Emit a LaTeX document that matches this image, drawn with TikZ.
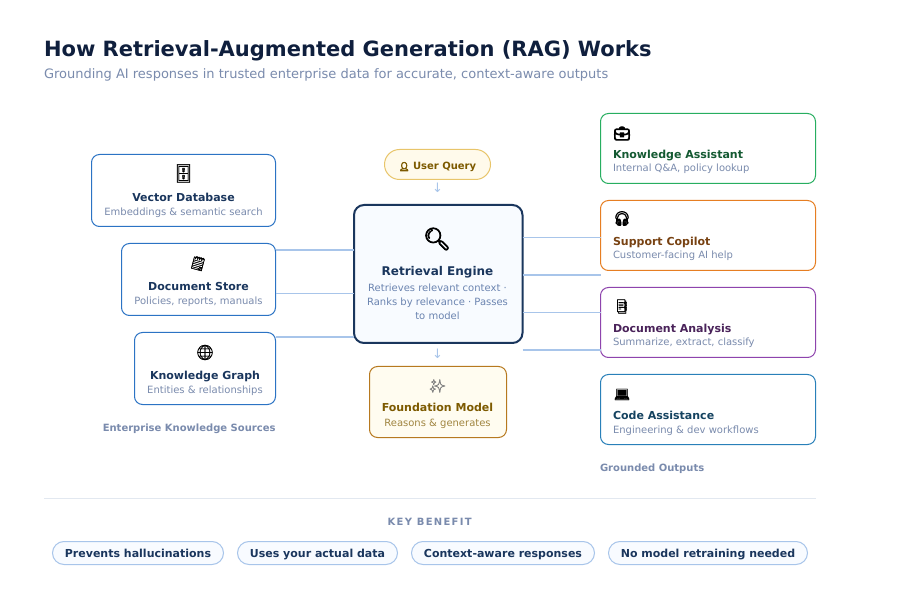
\documentclass[tikz,border=0pt]{standalone}
\usepackage{fontspec}
\setmainfont{DejaVu Sans}
\newfontfamily\emo[FakeBold=1.2]{Noto Emoji}
\newfontfamily\emob[FakeBold=4]{Noto Emoji}
\newfontfamily\emoc[FakeBold=9]{Noto Emoji}
\newfontfamily\spaced[LetterSpace=13]{DejaVu Sans}
\newcommand{\fsz}[1]{\fontsize{#1}{#1}\selectfont}
\definecolor{ink}{HTML}{0F1F3D}
\definecolor{subt}{HTML}{7A8BAD}
\definecolor{navy}{HTML}{1A365D}
\definecolor{bluecard}{HTML}{2B73C4}
\definecolor{link}{HTML}{A8C5EA}
\definecolor{pale}{HTML}{F8FBFF}
\definecolor{engsub}{HTML}{6B84B0}
\definecolor{gA}{HTML}{27AE60}\definecolor{gT}{HTML}{145A32}
\definecolor{oA}{HTML}{E67E22}\definecolor{oT}{HTML}{784212}
\definecolor{pA}{HTML}{8E44AD}\definecolor{pT}{HTML}{4A235A}
\definecolor{bA}{HTML}{2980B9}\definecolor{bT}{HTML}{154360}
\definecolor{goldT}{HTML}{7D5A00}\definecolor{goldB}{HTML}{B7791F}\definecolor{goldS}{HTML}{A08540}
\definecolor{creamA}{HTML}{FFFAEB}\definecolor{creamB}{HTML}{FFFCF0}\definecolor{goldL}{HTML}{E8C56A}
\definecolor{rule}{HTML}{E2E8F0}
\tikzset{
  box/.style={draw,rectangle,rounded corners=8pt,line width=1pt,inner sep=0pt,outer sep=0pt,fill=white},
  txt/.style={inner sep=0pt,outer sep=0pt,anchor=base},
  ttl/.style={txt,font=\fsz{11}\bfseries,text=navy},
  sub/.style={txt,font=\fsz{10},text=subt},
  ic/.style={inner sep=0pt,outer sep=0pt,anchor=center,text=black},
  thinlink/.style={draw=link,line width=1pt},
  thicklink/.style={draw=link,line width=2pt},
  pill/.style={box,rounded corners=11.5pt,draw=link,fill=pale,minimum height=23pt,font=\fsz{11}\bfseries,text=navy,text height=11.5pt,text depth=2.5pt},
  seclabel/.style={txt,font=\fsz{10}\bfseries,text=subt},
  tick/.style={txt,font=\fsz{13},text=link}
}
\newcommand{\leftcard}[9]{% name,x1,x2,y1,y2,icon font/opts,icon,title,sub
  \node[box,draw=bluecard,minimum width=#3pt-#2pt,minimum height=#5pt-#4pt,anchor=north west] (#1) at (#2,#4) {};
  \pgfmathsetmacro{\cx}{(#2+#3)/2}
  \node[ic,#6] (#1i) at (\cx,#4+20) {#7};
  \node[ttl] (#1t) at (\cx,#4+47.5) {#8};
  \node[sub] (#1s) at (\cx,#4+61) {#9};
}
\newcommand{\rightcard}[8]{% name,y1,border,titlecolor,iconopts,icon,title,sub
  \node[box,draw=#3,minimum width=215pt,minimum height=70pt,anchor=north west] (#1) at (600.5,#2) {};
  \node[ic,#5] (#1i) at (622,#2+20) {#6};
  \node[ttl,anchor=base west,text=#4] (#1t) at (613,#2+45) {#7};
  \node[sub,anchor=base west] (#1s) at (613,#2+58.5) {#8};
}
\begin{document}
\begin{tikzpicture}[x=1pt,y=-1pt]
\useasboundingbox[fill=white] (0,0) rectangle (900,612);
\node[txt,anchor=base west,font=\fsz{21}\bfseries,text=ink] (title) at (44,56.5) {How Retrieval-Augmented Generation (RAG) Works};
\node[txt,anchor=base west,font=\fsz{13},text=subt] (subtitle) at (44,79) {Grounding AI responses in trusted enterprise data for accurate, context-aware outputs};
\leftcard{vdb}{91.5}{275.5}{154.5}{226.5}{font=\emo\fsz{18},xscale=.72,yshift=1pt}{🗄}{Vector Database}{Embeddings \& semantic search}
\leftcard{doc}{121.5}{275.5}{243.5}{315.5}{font=\emo\fsz{13},rotate=-15,xshift=-.5pt}{🗒}{Document Store}{Policies, reports, manuals}
\leftcard{kg}{134.5}{275.5}{332.5}{404.5}{font=\emo\fsz{15}}{🌐}{Knowledge Graph}{Entities \& relationships}
\node[seclabel,anchor=base east] (srclabel) at (275.5,431) {Enterprise Knowledge Sources};
\node[box,draw=navy,fill=pale,line width=2pt,rounded corners=10pt,minimum width=168.5pt,minimum height=138pt,anchor=north west] (eng) at (354,205) {};
\node[ic,font=\emob\fsz{22}] (engi) at (437,239) {🔍};
\node[ttl,font=\fsz{12}\bfseries] (engt) at (437.5,275.5) {Retrieval Engine};
\node[sub,text=engsub] (engs1) at (437.5,292) {Retrieves relevant context ·};
\node[sub,text=engsub] (engs2) at (437.5,306) {Ranks by relevance · Passes};
\node[sub,text=engsub] (engs3) at (437.5,320) {to model};
\node[box,draw=goldL,fill=creamA,rounded corners=15pt,minimum width=106pt,minimum height=30pt,anchor=north west] (uq) at (384.5,149.5) {};
\node[txt,font=\fsz{10}\bfseries,text=goldT] (uqt) at (437.5,169.5) {{\emoc\fsz{8.5}👤} User Query};
\node[box,draw=goldB,fill=creamB,minimum width=137pt,minimum height=71pt,anchor=north west] (fm) at (369.5,366.5) {};
\node[ic,font=\emo\fsz{13},text=gray] (fmi) at (437.5,386) {✨};
\node[ttl,text=goldT] (fmt) at (437.5,411) {Foundation Model};
\node[sub,text=goldS] (fms) at (437.5,426) {Reasons \& generates};
\node[tick] (arr1) at (437.5,193) {↓};
\node[tick] (arr2) at (437.5,359) {↓};
\rightcard{ka}{113.5}{gA}{gT}{font=\emoc\fsz{13}}{💼}{Knowledge Assistant}{Internal Q\&A, policy lookup}
\rightcard{sc}{200.5}{oA}{oT}{font=\emob\fsz{14},yshift=2pt}{🎧}{Support Copilot}{Customer-facing AI help}
\rightcard{da}{287.5}{pA}{pT}{font=\emo\fsz{14},xscale=.75,yshift=1pt}{📑}{Document Analysis}{Summarize, extract, classify}
\rightcard{ca}{374.5}{bA}{bT}{font=\emo\fsz{13}}{💻}{Code Assistance}{Engineering \& dev workflows}
\node[seclabel,anchor=base west] (outlabel) at (600,471) {Grounded Outputs};
\draw[thicklink] (doc.east |- 0,250) -- (eng.west |- 0,250);
\draw[thinlink] (doc.east |- 0,293.5) -- (eng.west |- 0,293.5);
\draw[thicklink] (kg.east |- 0,337) -- (eng.west |- 0,337);
\draw[thinlink] (eng.east |- 0,237.5) -- (sc.west |- 0,237.5);
\draw[thicklink] (eng.east |- 0,275) -- (sc.west |- 0,275);
\draw[thinlink] (eng.east |- 0,312.5) -- (da.west |- 0,312.5);
\draw[thicklink] (eng.east |- 0,350) -- (da.west |- 0,350);
\coordinate (divL) at (44,498.5);
\coordinate (divR) at (816,498.5);
\draw[draw=rule,line width=1pt] (divL) -- (divR);
\node[txt,font=\spaced\fsz{10}\bfseries,text=subt] (kb) at (429.7,525) {KEY BENEFIT};
\node[pill,minimum width=171pt,anchor=north west] (p1) at (52.5,541.5) {Prevents hallucinations};
\node[pill,minimum width=160pt,anchor=north west] (p2) at (237.5,541.5) {Uses your actual data};
\node[pill,minimum width=183pt,anchor=north west] (p3) at (411.5,541.5) {Context-aware responses};
\node[pill,minimum width=199pt,anchor=north west] (p4) at (608.5,541.5) {No model retraining needed};
\end{tikzpicture}
\end{document}
